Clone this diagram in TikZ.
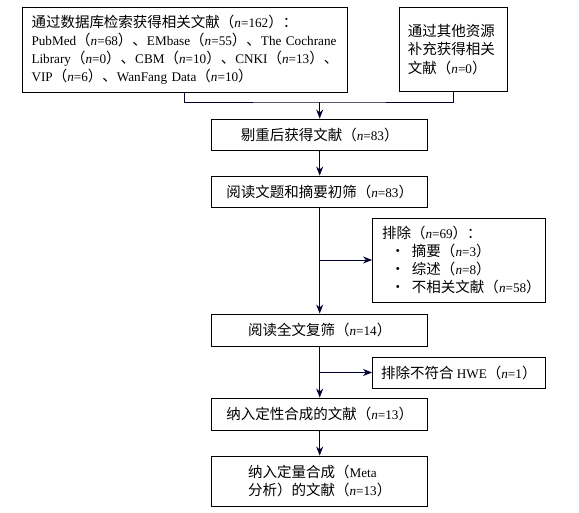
\documentclass[tikz,border=0pt]{standalone}
\usepackage{fontspec}
\setmainfont{Liberation Serif}
\newfontfamily\cjk{Noto Sans CJK SC}
\usetikzlibrary{arrows.meta}
\newcommand{\zh}[1]{{\fontsize{14.5}{18.3}\selectfont\cjk #1}}
\newcommand{\nn}[1]{\zh{（}\textit{n}=#1\zh{）}}
\newcommand{\bul}{\hspace*{30pt}\llap{\zh{·}\hspace{7pt}}}
\begin{document}
\begin{tikzpicture}[x=1pt,y=-1pt,
  box/.style={draw=black,line width=0.9pt,inner sep=0pt,font=\fontsize{13.2}{18.3}\selectfont},
  arr/.style={draw=black!80!blue,line width=0.9pt,-{Stealth[length=9pt,width=7pt]}},
  ln/.style={draw=black!80!blue,line width=0.9pt}]
\useasboundingbox (0,0) rectangle (579,512);
\node[box,minimum width=324.5pt,minimum height=84.7pt,inner xsep=9pt,text width=306.5pt,align=left] (b1) at (184.75,49.7)
 {\mbox{\zh{通过数据库检索获得相关文献}\nn{162}\zh{：}}\\
  \mbox{PubMed\nn{68}\zh{、}EMbase\nn{55}\zh{、}The Cochrane}\\
  \mbox{Library\nn{0}\zh{、}CBM\nn{10}\zh{、}CNKI\nn{13}\zh{、}}\\
  \mbox{VIP\nn{6}\zh{、}WanFang Data\nn{10}}};
\node[box,minimum width=108.7pt,minimum height=84.4pt,inner xsep=9pt,text width=90.7pt,align=left] (b2) at (453.3,49.5)
 {\zh{通过其他资源}\\\zh{补充获得相关}\\\zh{文献}\nn{0}};
\node[box,minimum width=216pt,minimum height=31pt] (b3) at (319.7,134.5) {\zh{剔重后获得文献}\nn{83}};
\node[box,minimum width=216pt,minimum height=31pt] (b4) at (319.7,191.5) {\zh{阅读文题和摘要初筛}\nn{83}};
\node[box,minimum width=172.5pt,minimum height=84pt,inner xsep=9.5pt,text width=153.5pt,align=left] (ex) at (458.75,260)
 {\zh{排除}\nn{69}\zh{：}\\
  \bul\zh{摘要}\nn{3}\\
  \bul\zh{综述}\nn{8}\\
  \bul\zh{不相关文献}\nn{58}};
\node[box,minimum width=216pt,minimum height=32pt] (b5) at (319.7,330) {\zh{阅读全文复筛}\nn{14}};
\node[box,minimum width=172.5pt,minimum height=31pt] (hwe) at (458.75,372.5) {\zh{排除不符合} HWE\nn{1}};
\node[box,minimum width=216pt,minimum height=32pt] (b6) at (319.7,414) {\zh{纳入定性合成的文献}\nn{13}};
\node[box,minimum width=216pt,minimum height=50pt,align=left] (b7) at (319.7,481)
 {\zh{纳入定量合成（}Meta\\\zh{分析）的文献}\nn{13}};
\coordinate (j) at (319.7,102);
\draw[ln] (b1.south) |- (j) -| (b2.south);
\draw[arr] (j) -- (b3.north);
\draw[arr] (b3.south) -- (b4.north);
\draw[arr] (b4.south) -- (b5.north);
\draw[arr] (b4.south |- ex.west) -- (ex.west);
\draw[arr] (b5.south) -- (b6.north);
\draw[arr] (b5.south |- hwe.west) -- (hwe.west);
\draw[arr] (b6.south) -- (b7.north);
\end{tikzpicture}
\end{document}
